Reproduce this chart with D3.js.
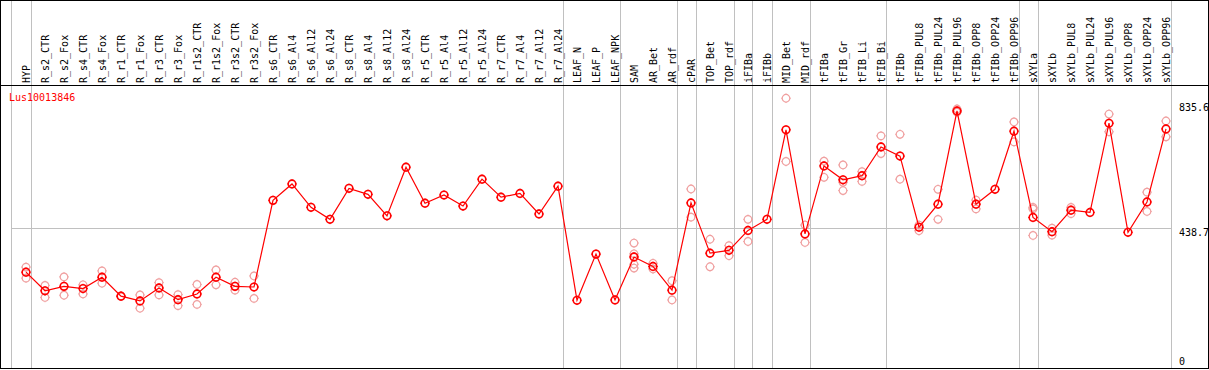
<!DOCTYPE html>
<meta charset="utf-8">
<style>
body {
  margin: 0;
  background-color: #ffffff;
}
text {
  font-family: "DejaVu Sans Mono", monospace;
  font-size: 10px;
}
.frame {
  fill: none;
  stroke: #000;
  stroke-width: 1px;
  shape-rendering: crispEdges;
}
.grid {
  stroke: #c0c0c0;
  stroke-width: 1px;
  shape-rendering: crispEdges;
}
.line {
  fill: none;
  stroke: #ff0000;
  stroke-width: 1.2px;
}
.rep {
  fill: none;
  stroke: #f0a0a0;
  stroke-width: 1.2px;
}
.mean {
  fill: none;
  stroke: #ff0000;
  stroke-width: 1.6px;
}
.rep path, .mean path {
  stroke-width: 1px;
}
</style>
<body>
<svg width="1209" height="370"></svg>

<script src="https://d3js.org/d3.v7.min.js"></script>
<script>

var gene = "Lus10013846";

var samples = ["HYP",
  "R_s2_CTR", "R_s2_Fox", "R_s4_CTR", "R_s4_Fox", "R_r1_CTR", "R_r1_Fox",
  "R_r3_CTR", "R_r3_Fox", "R_r1s2_CTR", "R_r1s2_Fox", "R_r3s2_CTR", "R_r3s2_Fox",
  "R_s6_CTR", "R_s6_Al4", "R_s6_Al12", "R_s6_Al24", "R_s8_CTR", "R_s8_Al4",
  "R_s8_Al12", "R_s8_Al24", "R_r5_CTR", "R_r5_Al4", "R_r5_Al12", "R_r5_Al24",
  "R_r7_CTR", "R_r7_Al4", "R_r7_Al12", "R_r7_Al24",
  "LEAF_N", "LEAF_P", "LEAF_NPK", "SAM", "AR_Bet", "AR_rdf", "cPAR",
  "TOP_Bet", "TOP_rdf", "iFIBa", "iFIBb", "MID_Bet", "MID_rdf",
  "tFIBa", "tFIB_Gr", "tFIB_Li", "tFIB_Bi", "tFIBb",
  "tFIBb_PUL8", "tFIBb_PUL24", "tFIBb_PUL96", "tFIBb_OPP8", "tFIBb_OPP24", "tFIBb_OPP96",
  "sXYLa", "sXYLb",
  "sXYLb_PUL8", "sXYLb_PUL24", "sXYLb_PUL96", "sXYLb_OPP8", "sXYLb_OPP24", "sXYLb_OPP96"];

// mean expression per sample
var means = [300,
  241, 255, 248, 284, 224, 209,
  250, 213, 231, 284, 255, 253,
  527, 579, 505, 467, 565, 546,
  478, 632, 518, 544, 509, 594,
  537, 549, 484, 572,
  211, 357, 212, 348, 318, 243, 519,
  360, 369, 432, 467, 750, 421,
  636, 592, 605, 696, 667,
  442, 515, 810, 515, 562, 746,
  473, 428,
  496, 489, 771, 426, 522, 753];

// replicate values per sample
var reps = [[316, 281],
  [258, 220], [285, 227], [260, 231], [304, 265], [224, 224], [228, 186],
  [267, 228], [229, 194], [261, 198], [307, 260], [268, 243], [288, 217],
  [], [], [], [], [], [],
  [], [], [], [], [], [],
  [], [], [], [],
  [], [], [], [392, 358, 325, 313], [328, 310], [273, 212], [563, 474],
  [404, 317], [384, 352], [467, 397], [], [850, 650], [449, 394],
  [651, 600], [639, 584, 558], [618, 587], [731, 675], [736, 594],
  [449, 431], [562, 467], [816, 806], [528, 500], [], [775, 712],
  [505, 416, 500], [439, 417],
  [505, 485], [], [800, 744], [], [553, 492], [778, 728]];

// index of the last sample in each group (-1 = left edge)
var groupEnds = [-1, 0, 28, 31, 34, 35, 37, 38, 39, 41, 45, 52, 53, 60];

var yTicks = [0, 438.7, 835.6];

var headerY = 85, bottomY = 368, rightX = 1208;

var svg = d3.select("svg");

var x = d3.scaleLinear().domain([0, samples.length - 1]).range([26, 1166]);
var y = d3.scaleLinear().domain([0, 835.6]).range([367, 102.8]);

// vertical group separators
svg.selectAll(".vgrid").data(groupEnds)
  .enter().append("line")
  .attr("class", "grid")
  .attr("x1", function(d) { return Math.round(x(d) + 4.5) + 0.5; })
  .attr("x2", function(d) { return Math.round(x(d) + 4.5) + 0.5; })
  .attr("y1", 0)
  .attr("y2", bottomY);

// horizontal grid at mid tick
svg.append("line")
  .attr("class", "grid")
  .attr("x1", Math.round(x(-1) + 4.5))
  .attr("x2", Math.round(x(samples.length - 1) + 4.5))
  .attr("y1", Math.round(y(yTicks[1])) + 0.5)
  .attr("y2", Math.round(y(yTicks[1])) + 0.5);

// frame and header separator
svg.append("rect")
  .attr("class", "frame")
  .attr("x", 0.5).attr("y", 0.5)
  .attr("width", rightX).attr("height", bottomY);

svg.append("line")
  .attr("class", "frame")
  .attr("x1", 0).attr("x2", rightX)
  .attr("y1", headerY + 0.5).attr("y2", headerY + 0.5);

// column labels
svg.selectAll(".col-label").data(samples)
  .enter().append("text")
  .attr("class", "col-label")
  .attr("transform", function(d, i) {
    return "translate(" + (x(i) + 4) + "," + (headerY - 2) + ")rotate(-90)";
  })
  .style("text-anchor", "start")
  .attr("fill", "#000")
  .text(function(d) { return d; });

// gene name
svg.append("text")
  .attr("x", 9)
  .attr("y", 101)
  .attr("fill", "#ff0000")
  .text(gene);

// right axis labels
svg.selectAll(".y-label").data(yTicks)
  .enter().append("text")
  .attr("class", "y-label")
  .attr("x", 1179)
  .attr("y", function(d) { return d === 0 ? bottomY - 3 : y(d) + 8; })
  .attr("fill", "#000")
  .text(function(d) { return d; });

// replicate points
var repData = [];
reps.forEach(function(r, i) {
  r.forEach(function(v) { repData.push({i: i, v: v}); });
});

function marker(sel, cls, r) {
  var m = sel.append("g")
    .attr("class", cls)
    .attr("transform", function(d) { return "translate(" + x(d.i) + "," + y(d.v) + ")"; });
  m.append("circle").attr("r", r);
  // tiny nubs at the four sides, like the pixel circles of the original
  m.append("path")
    .attr("d", "M0," + (-r - 1) + "V" + (-r) +
               "M0," + r + "V" + (r + 1) +
               "M" + (-r - 1) + ",0H" + (-r) +
               "M" + r + ",0H" + (r + 1));
  return m;
}

marker(svg.selectAll(".rep").data(repData).enter(), "rep", 3.8);

var line = d3.line()
  .x(function(d, i) { return x(i); })
  .y(function(d) { return y(d); });

svg.append("path")
  .datum(means)
  .attr("class", "line")
  .attr("d", line);

var meanData = means.map(function(v, i) { return {i: i, v: v}; });
marker(svg.selectAll(".mean").data(meanData).enter(), "mean", 3.8);

</script>
</body>
